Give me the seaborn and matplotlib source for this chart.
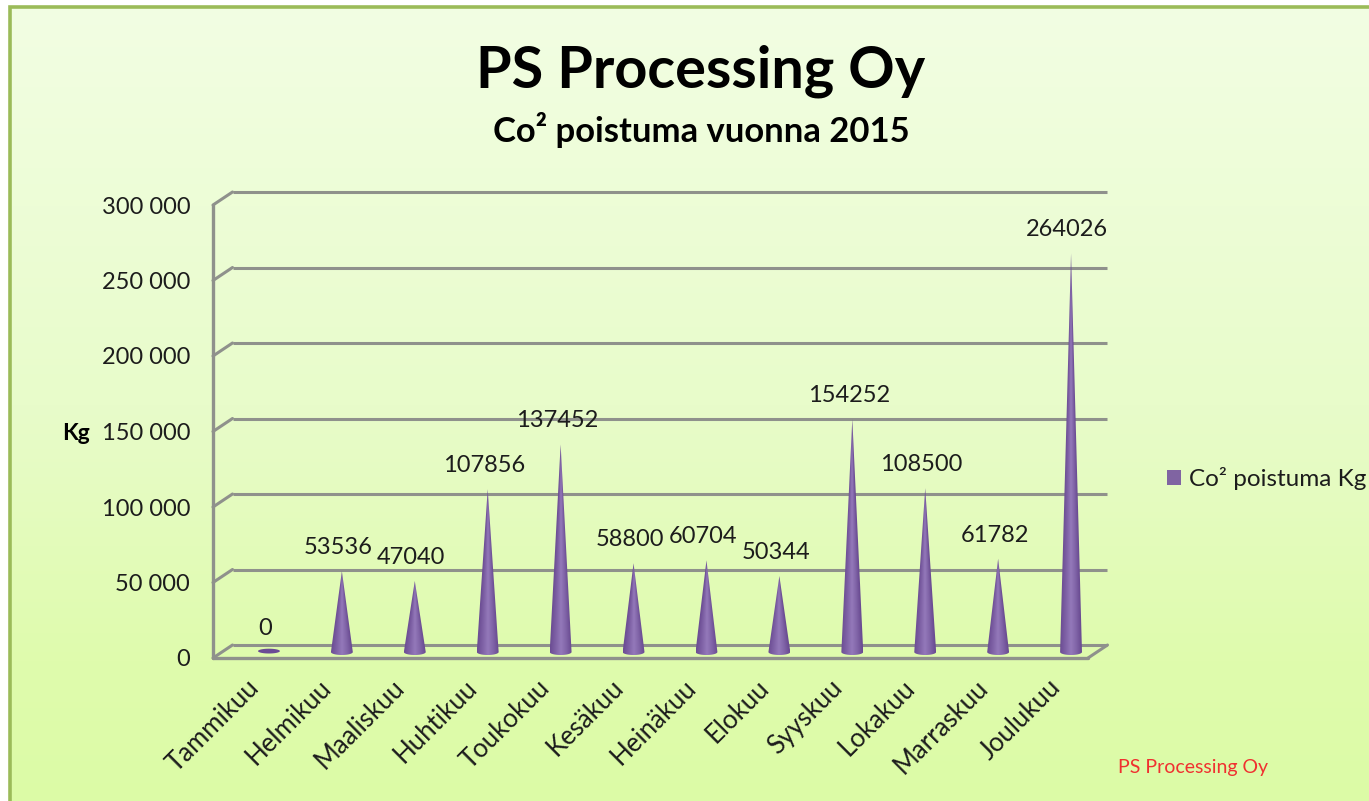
import numpy as np
import pandas as pd
import matplotlib
matplotlib.use('Agg')
from matplotlib import pyplot as plt
from matplotlib.colors import LinearSegmentedColormap
from matplotlib.patches import Patch, PathPatch, Rectangle
from matplotlib.path import Path
from matplotlib.transforms import Affine2D
import seaborn as sns

months = ['Tammikuu', 'Helmikuu', 'Maaliskuu', 'Huhtikuu', 'Toukokuu', 'Kesäkuu',
          'Heinäkuu', 'Elokuu', 'Syyskuu', 'Lokakuu', 'Marraskuu', 'Joulukuu']
co2_kg = [0, 53536, 47040, 107856, 137452, 58800, 60704, 50344, 154252, 108500, 61782, 264026]
y_ticks = [0, 50000, 100000, 150000, 200000, 250000, 300000]
y_labels = ['0', '50 000', '100 000', '150 000', '200 000', '250 000', '300 000']

W, H = 1369, 801
GRID = '#8f918c'
TEXT = '#1c1c1c'
FONT = 'Lato'

sns.set_theme(style='white')
plt.rcParams['font.family'] = [FONT, 'DejaVu Sans']

fig = plt.figure(figsize=(W / 100, H / 100), dpi=100, facecolor='white')


def box(x0, y_top, x1, y_bottom):
    return [x0 / W, 1 - y_bottom / H, (x1 - x0) / W, (y_bottom - y_top) / H]


# background panel with the green gradient
bg = fig.add_axes(box(10, 6, W + 4, H + 4), zorder=0)
bg_cmap = LinearSegmentedColormap.from_list('bg', [(0, '#f2fee3'), (0.5, '#e8fcca'), (0.82, '#dffbad'), (1, '#dcfba6')])
bg.imshow(np.linspace(0, 1, 256).reshape(-1, 1), cmap=bg_cmap, aspect='auto')
bg.set_axis_off()
fig.add_artist(Rectangle((10 / W, -0.01), (W + 10) / W, 1 - 6.5 / H + 0.01, fill=False,
                         edgecolor='#9bbb59', linewidth=2.6, transform=fig.transFigure, zorder=1))

# axes box is the plane the cones stand on
ax = fig.add_axes(box(232.5, 199, 1107.5, 652), zorder=2)
ax.patch.set_alpha(0)
df = pd.DataFrame({'month': months, 'kg': co2_kg})
sns.barplot(data=df, x='month', y='kg', color='#8064a2', width=0.3, ax=ax)
ax.set_xlim(-0.5, 11.5)
ax.set_ylim(0, 300000)
ax.set_xlabel('')
ax.set_ylabel('')
sns.despine(ax=ax, left=True, bottom=True)

px_y = 300000 / 453.0
back = ax.transData + Affine2D().translate(0, 7)
front = ax.transData + Affine2D().translate(-19.5, -6)

# back wall and floor
for v in y_ticks:
    ax.plot([-0.5, 11.5], [v, v], color=GRID, lw=2.2, transform=back, clip_on=False, zorder=1,
            solid_capstyle='butt')
    p0 = front.transform((-0.5, v))
    p1 = back.transform((-0.5, v))
    ax.plot([p0[0], p1[0]], [p0[1], p1[1]], color=GRID, lw=2.2, transform=None, clip_on=False, zorder=1)
ax.plot([-0.5, -0.5], [0, 300000], color=GRID, lw=2.4, transform=front, clip_on=False, zorder=1)
ax.plot([-0.5, 11.5], [0, 0], color=GRID, lw=2.4, transform=front, clip_on=False, zorder=1)
p0 = front.transform((11.5, 0))
p1 = back.transform((11.5, 0))
ax.plot([p0[0], p1[0]], [p0[1], p1[1]], color=GRID, lw=2.2, transform=None, clip_on=False, zorder=1)

# turn the seaborn bars into cones
cone_cmap = LinearSegmentedColormap.from_list('cone', ['#6c4d94', '#7f62a6', '#9479ba', '#8165a8', '#694a91'])
rim = 3.0 * px_y
for bar in list(ax.patches):
    bar.set_visible(False)
    cx = bar.get_x() + bar.get_width() / 2
    half = bar.get_width() / 2
    top = bar.get_height()
    if top == 0:
        t = np.linspace(0, 2 * np.pi, 60)
        verts = np.column_stack([cx + half * np.cos(t), 0.8 * rim * np.sin(t) + 0.3 * rim])
        ax.add_patch(PathPatch(Path(verts), facecolor='#6b4c95', edgecolor='none', zorder=3, clip_on=False))
        continue
    t = np.linspace(np.pi, 2 * np.pi, 30)
    ex = cx + half * np.cos(t)
    ey = rim * np.sin(t)
    verts = np.vstack([[[cx, top]], np.column_stack([ex, ey]), [[cx, top]]])
    clip = PathPatch(Path(verts), facecolor='none', edgecolor='none', transform=ax.transData, clip_on=False)
    ax.add_patch(clip)
    # shade follows the cone width at each height
    yy = np.linspace(top, -rim, 300)
    xx = np.linspace(-1, 1, 80)
    width_at = np.clip((top - yy) / top, 0.003, 1.05)
    shade = np.clip(xx[None, :] / width_at[:, None] * 0.5 + 0.5, 0, 1)
    img = ax.imshow(shade, cmap=cone_cmap, extent=(cx - half, cx + half, -rim, top), aspect='auto',
                    zorder=3, interpolation='bilinear')
    # images get cut at the axes box unless the clip box is wider
    img.set_clip_box(fig.bbox)
    img.set_clip_path(clip)
ax.set_xlim(-0.5, 11.5)
ax.set_ylim(0, 300000)

# value labels float above the tips
for i, v in enumerate(co2_kg):
    ax.annotate(str(v), (i, v), xytext=(-2.6, 17), textcoords='offset points', ha='center', va='center',
                fontsize=17, color=TEXT, zorder=5, annotation_clip=False)

ax.set_yticks(y_ticks)
ax.set_yticklabels(y_labels, fontsize=17, color=TEXT)
ax.tick_params(axis='y', length=0, pad=30.5)
shift = Affine2D().translate(0, -6)
for lab in ax.get_yticklabels():
    lab.set_transform(lab.get_transform() + shift)
ax.set_xticks(range(len(months)))
ax.set_xticklabels(months, rotation=45, ha='right', rotation_mode='anchor', fontsize=18.5, color=TEXT)
ax.tick_params(axis='x', length=0, pad=16.5)
for lab in ax.get_xticklabels():
    lab.set_transform(lab.get_transform() + Affine2D().translate(-23, 0))

fig.text(701 / W, 1 - 71.5 / H, 'PS Processing Oy', ha='center', va='center', fontsize=41.5,
         fontweight='bold', color='black', zorder=5)
fig.text(701 / W, 1 - 130 / H, 'Co² poistuma vuonna 2015', ha='center', va='center', fontsize=24.9,
         fontweight='bold', color='black', zorder=5)
fig.text(76 / W, 1 - 434 / H, 'Kg', ha='center', va='center', fontsize=16.5, fontweight='bold',
         color='black', zorder=5)
fig.text(1118 / W, 1 - 767 / H, 'PS Processing Oy', ha='left', va='center', fontsize=14,
         color='#f03030', zorder=5)

handle = Patch(facecolor='#8064a2', edgecolor='none', label='Co² poistuma Kg')
leg = fig.legend(handles=[handle], loc='center left', bbox_to_anchor=(1167 / W, 1 - 479 / H), frameon=False,
                 fontsize=17.5, handlelength=0.58, handleheight=0.58, handletextpad=0.33, borderpad=0,
                 borderaxespad=0, labelcolor=TEXT)
leg.set_zorder(5)

fig.savefig('out.png', dpi=100)
